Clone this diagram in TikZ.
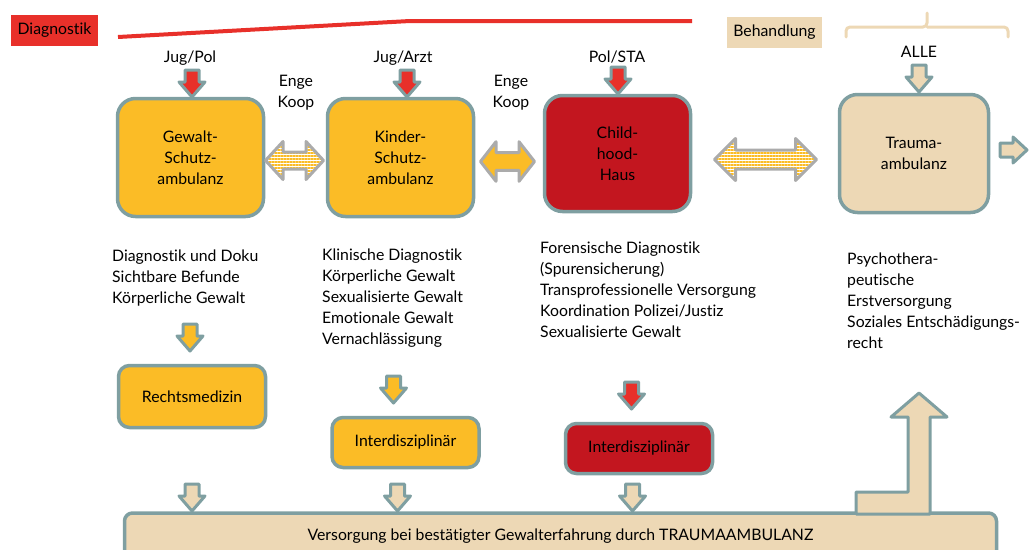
\documentclass[tikz,border=0pt]{standalone}
\usepackage{fontspec}
\setmainfont{Lato}[Ligatures=NoCommon]
\usetikzlibrary{patterns.meta,positioning,calc}
\definecolor{gelb}{HTML}{FBBC26}
\definecolor{dunkelrot}{HTML}{C3161F}
\definecolor{hellrot}{HTML}{E8302A}
\definecolor{sand}{HTML}{EDD8B5}
\definecolor{rand}{HTML}{7F9FA1}
\definecolor{grau}{HTML}{ABABAB}
\tikzset{
    runter/.style={insert path={-- ++(-13,-15) -- ++(6,0) -- ++(0,-12) -- ++(14,0) -- ++(0,12) -- ++(6,0) -- cycle}},
    rechts/.style={insert path={-- ++(-14,-13) -- ++(0,6) -- ++(-13,0) -- ++(0,14) -- ++(13,0) -- ++(0,6) -- cycle}},
    dpf/.style n args={4}{insert path={++(-#1,0) -- ++(#2,#4) -- ++(0,#3-#4) -- ++(2*#1-2*#2,0)
        -- ++(0,#4-#3) -- ++(#2,-#4) -- ++(-#2,-#4) -- ++(0,#4-#3) -- ++(-2*#1+2*#2,0) -- ++(0,#3-#4) -- cycle}}
}

\begin{document}
\begin{tikzpicture}[x=1pt,y=-1pt,line join=round,
    font=\fontsize{15.8}{21}\selectfont,
    box/.style={draw=rand,line width=3.5pt,rounded corners=18pt,align=center,inner sep=0pt},
    kbox/.style={box,rounded corners=11pt,minimum width=147pt,minimum height=50pt},
    txt/.style={align=left,anchor=base west,inner sep=0pt},
    lbl/.style={align=center,anchor=base,inner sep=0pt},
    pf/.style={draw=rand,line width=3pt},
    dp/.style={draw=grau,line width=3pt},
    streifen/.style={pattern={Lines[angle=0,distance=3pt,line width=1.8pt]},pattern color=gelb}]
    \clip (0,0) rectangle (1032,549);
    % Kopfzeile
    \node[fill=hellrot,minimum width=87pt,minimum height=31pt,inner sep=0pt] (diag) at (54.5,30.5) {Diagnostik};
    \node[fill=sand,minimum width=95pt,minimum height=31pt,inner sep=0pt] (beh) at (774.5,32.5) {Behandlung};
    \draw[hellrot,line width=4pt] (118,37) -- (410,21) -- (692,21);
    \draw[sand,line width=3pt,rounded corners=4pt,line cap=round]
        (846,37) -- (846,27) -- (927,27) -- (927,13) (927,27) -- (1008,27) -- (1008,37);
    \node[lbl] (jp) at (190,62) {Jug/Pol};
    \node[lbl] (ja) at (403,62) {Jug/Arzt};
    \node[lbl] (ps) at (617,62) {Pol/STA};
    \node[lbl] (alle) at (919,57) {ALLE};
    \node[lbl] (ek1) at (296,107) {Enge\\Koop};
    \node[lbl] (ek2) at (511,107) {Enge\\Koop};
    % Ambulanzen
    \node[box,fill=gelb,minimum width=146pt,minimum height=118pt] (gsa) at (190.5,157.5) {Gewalt-\\Schutz-\\ambulanz};
    \node[box,fill=gelb,minimum width=146pt,minimum height=118pt] (ksa) at (400.5,157.5) {Kinder-\\Schutz-\\ambulanz};
    \node[box,fill=dunkelrot,minimum width=146pt,minimum height=116pt] (chh) at (617.5,153.5) {Child-\\hood-\\Haus};
    \node[box,fill=sand,minimum width=149pt,minimum height=118pt] (tra) at (914,153.5) {Trauma-\\ambulanz};
    \draw[pf,fill=hellrot] (192,97) coordinate (p1) [runter];
    \draw[pf,fill=hellrot] (407,97) coordinate (p2) [runter];
    \draw[pf,fill=hellrot] (618,94) coordinate (p3) [runter];
    \draw[pf,fill=sand] (919,92) coordinate (p4) [runter];
    \draw[pf,fill=sand] (1027,150) coordinate (p5) [rechts];
    \draw[dp,streifen] (294.5,160.5) coordinate (dp1) [dpf={29}{17.5}{8.5}{19}];
    \draw[dp,fill=gelb] (507.5,161.5) coordinate (dp2) [dpf={27}{15.5}{8.8}{19.8}];
    \draw[dp,streifen] (765.5,159.5) coordinate (dp3) [dpf={51}{21}{9.5}{21}];
    % Beschreibungen
    \node[txt] (t1) at (112,303) {Diagnostik und Doku\\Sichtbare Befunde\\Körperliche Gewalt};
    \node[txt] (t2) at (322,344) {Klinische Diagnostik\\Körperliche Gewalt\\Sexualisierte Gewalt\\Emotionale Gewalt\\Vernachlässigung};
    \node[txt] (t3) at (540,337) {Forensische Diagnostik\\(Spurensicherung)\\Transprofessionelle Versorgung\\Koordination Polizei/Justiz\\Sexualisierte Gewalt};
    \node[txt] (t4) at (847,348) {Psychothera-\\peutische\\Erstversorgung\\Soziales Entschädigungs-\\recht};
    % zweite Ebene
    \draw[pf,fill=gelb] (190,351) coordinate (p6) [runter];
    \draw[pf,fill=gelb] (393.5,403) coordinate (p7) [runter];
    \draw[pf,fill=hellrot] (631.5,409) coordinate (p8) [runter];
    \node[kbox,fill=gelb,minimum height=62pt] (rm) at (192,396.5) {Rechtsmedizin};
    \node[kbox,fill=gelb] (ik) at (405.5,442.5) {Interdisziplinär};
    \node[kbox,fill=dunkelrot] (ic) at (639,448.5) {Interdisziplinär};
    % Versorgung
    \node[box,fill=sand,rounded corners=8pt,minimum width=872pt,minimum height=46pt] (unten) at (560.5,536)
        {Versorgung bei bestätigter Gewalterfahrung durch TRAUMAAMBULANZ};
    \draw[pf,fill=sand] (192,511) coordinate (p9) [runter];
    \draw[pf,fill=sand] (397.5,511) coordinate (p10) [runter];
    \draw[pf,fill=sand] (632.5,511) coordinate (p11) [runter];
    \draw[pf,fill=sand] (856,514) -- (856,492) -- (908,492) -- (908,417) -- (891,417)
        -- (919,393) -- (947,417) -- (930,417) -- (930,514) -- cycle;
\end{tikzpicture}
\end{document}
